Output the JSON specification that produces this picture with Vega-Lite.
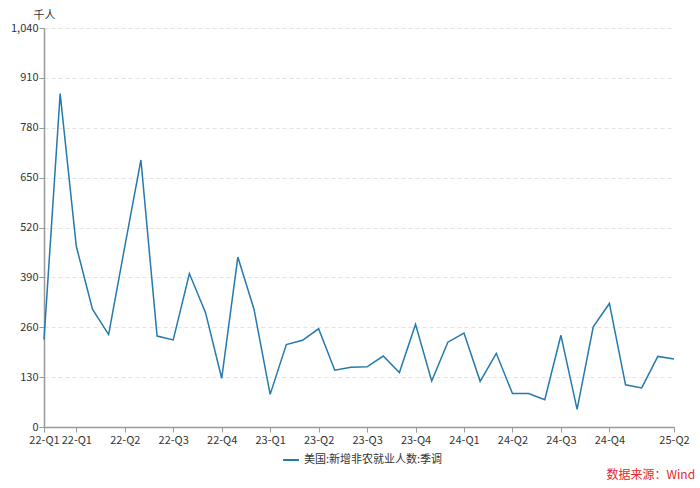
{
  "$schema": "https://vega.github.io/schema/vega-lite/v6.json",
  "autosize": "none",
  "width": 630,
  "height": 399,
  "padding": {"left": 44, "top": 28, "right": 26, "bottom": 61},
  "background": "white",
  "title": {
    "text": "数据来源：Wind",
    "orient": "bottom",
    "anchor": "end",
    "color": "#e8262a",
    "fontSize": 12,
    "fontWeight": "normal",
    "font": "Noto Sans CJK SC",
    "baseline": "middle",
    "offset": 10,
    "dx": 6
  },
  "data": {
    "values": [
      {"month": "2022-01", "series": "美国:新增非农就业人数:季调", "value": 228},
      {"month": "2022-02", "series": "美国:新增非农就业人数:季调", "value": 869},
      {"month": "2022-03", "series": "美国:新增非农就业人数:季调", "value": 471},
      {"month": "2022-04", "series": "美国:新增非农就业人数:季调", "value": 307},
      {"month": "2022-05", "series": "美国:新增非农就业人数:季调", "value": 241},
      {"month": "2022-06", "series": "美国:新增非农就业人数:季调", "value": 470},
      {"month": "2022-07", "series": "美国:新增非农就业人数:季调", "value": 696},
      {"month": "2022-08", "series": "美国:新增非农就业人数:季调", "value": 237},
      {"month": "2022-09", "series": "美国:新增非农就业人数:季调", "value": 227},
      {"month": "2022-10", "series": "美国:新增非农就业人数:季调", "value": 400},
      {"month": "2022-11", "series": "美国:新增非农就业人数:季调", "value": 298},
      {"month": "2022-12", "series": "美国:新增非农就业人数:季调", "value": 127},
      {"month": "2023-01", "series": "美国:新增非农就业人数:季调", "value": 443},
      {"month": "2023-02", "series": "美国:新增非农就业人数:季调", "value": 307},
      {"month": "2023-03", "series": "美国:新增非农就业人数:季调", "value": 85},
      {"month": "2023-04", "series": "美国:新增非农就业人数:季调", "value": 215},
      {"month": "2023-05", "series": "美国:新增非农就业人数:季调", "value": 226},
      {"month": "2023-06", "series": "美国:新增非农就业人数:季调", "value": 256},
      {"month": "2023-07", "series": "美国:新增非农就业人数:季调", "value": 148},
      {"month": "2023-08", "series": "美国:新增非农就业人数:季调", "value": 156},
      {"month": "2023-09", "series": "美国:新增非农就业人数:季调", "value": 157},
      {"month": "2023-10", "series": "美国:新增非农就业人数:季调", "value": 185},
      {"month": "2023-11", "series": "美国:新增非农就业人数:季调", "value": 142},
      {"month": "2023-12", "series": "美国:新增非农就业人数:季调", "value": 268},
      {"month": "2024-01", "series": "美国:新增非农就业人数:季调", "value": 120},
      {"month": "2024-02", "series": "美国:新增非农就业人数:季调", "value": 221},
      {"month": "2024-03", "series": "美国:新增非农就业人数:季调", "value": 245},
      {"month": "2024-04", "series": "美国:新增非农就业人数:季调", "value": 119},
      {"month": "2024-05", "series": "美国:新增非农就业人数:季调", "value": 192},
      {"month": "2024-06", "series": "美国:新增非农就业人数:季调", "value": 87},
      {"month": "2024-07", "series": "美国:新增非农就业人数:季调", "value": 87},
      {"month": "2024-08", "series": "美国:新增非农就业人数:季调", "value": 71},
      {"month": "2024-09", "series": "美国:新增非农就业人数:季调", "value": 239},
      {"month": "2024-10", "series": "美国:新增非农就业人数:季调", "value": 46},
      {"month": "2024-11", "series": "美国:新增非农就业人数:季调", "value": 261},
      {"month": "2024-12", "series": "美国:新增非农就业人数:季调", "value": 322},
      {"month": "2025-01", "series": "美国:新增非农就业人数:季调", "value": 110},
      {"month": "2025-02", "series": "美国:新增非农就业人数:季调", "value": 102},
      {"month": "2025-03", "series": "美国:新增非农就业人数:季调", "value": 184},
      {"month": "2025-04", "series": "美国:新增非农就业人数:季调", "value": 177}
    ]
  },
  "mark": {"type": "line", "strokeWidth": 1.5, "interpolate": "linear"},
  "encoding": {
    "x": {
      "field": "month",
      "type": "ordinal",
      "sort": null,
      "scale": {"type": "point", "padding": 0},
      "axis": {
        "title": null,
        "values": ["2022-01", "2022-03", "2022-06", "2022-09", "2022-12", "2023-03", "2023-06", "2023-09", "2023-12", "2024-03", "2024-06", "2024-09", "2024-12", "2025-04"],
        "labelExpr": "substring(datum.value, 2, 4) + '-Q' + ceil(toNumber(substring(datum.value, 5, 7)) / 3)",
        "labelAngle": 0,
        "labelFont": "Noto Sans CJK SC",
        "labelFontSize": 11,
        "labelColor": "#333333",
        "labelPadding": 2,
        "domainColor": "#999999",
        "domainWidth": 1.5,
        "tickColor": "#999999",
        "tickSize": 5,
        "grid": false
      }
    },
    "y": {
      "field": "value",
      "type": "quantitative",
      "scale": {"domain": [0, 1040], "nice": false},
      "axis": {
        "title": "千人",
        "titleAngle": 0,
        "titleX": 0,
        "titleY": -13,
        "titleAlign": "center",
        "titleBaseline": "middle",
        "titleFont": "Noto Sans CJK SC",
        "titleFontSize": 11,
        "titleFontWeight": "normal",
        "titleColor": "#333333",
        "values": [0, 130, 260, 390, 520, 650, 780, 910, 1040],
        "format": ",d",
        "labelFont": "Noto Sans CJK SC",
        "labelFontSize": 11,
        "labelColor": "#333333",
        "labelPadding": 1,
        "domainColor": "#999999",
        "domainWidth": 1.5,
        "tickColor": "#999999",
        "tickSize": 5,
        "grid": true,
        "gridColor": "#e3e3e3",
        "gridDash": [4, 3],
        "gridWidth": 1
      }
    },
    "color": {
      "field": "series",
      "type": "nominal",
      "scale": {"range": ["#2479ad"]},
      "legend": {
        "title": null,
        "orient": "none",
        "legendX": 238,
        "legendY": 423,
        "direction": "horizontal",
        "symbolType": "stroke",
        "symbolSize": 250,
        "symbolStrokeWidth": 2,
        "labelFont": "Noto Sans CJK SC",
        "labelFontSize": 11,
        "labelColor": "#333333",
        "labelOffset": 4
      }
    }
  },
  "config": {
    "view": {"stroke": null}
  }
}
